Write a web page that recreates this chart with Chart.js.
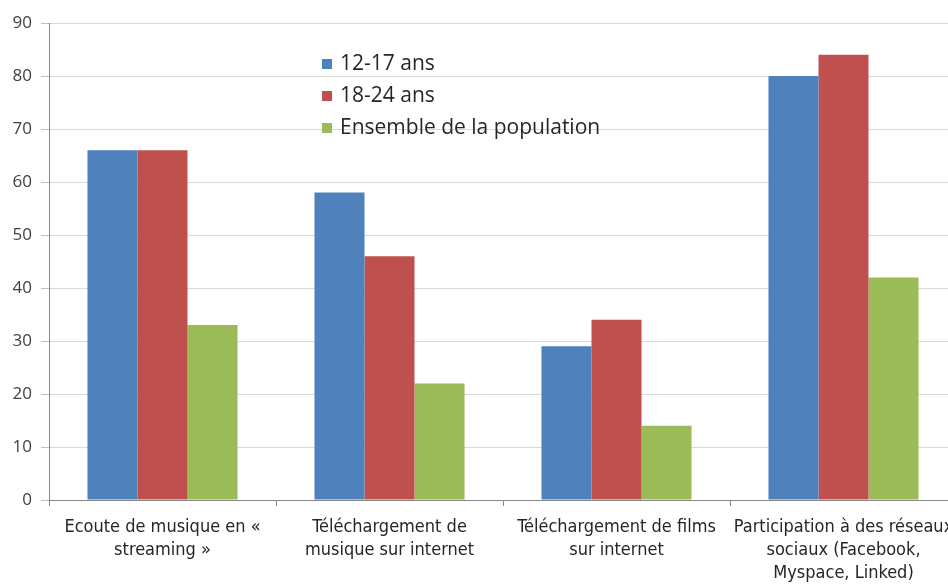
<!DOCTYPE html>
<html>
<head>
<meta charset="utf-8">
<script src="https://cdn.jsdelivr.net/npm/chart.js@4.4.0/dist/chart.umd.min.js"></script>
<style>
  html, body { margin: 0; padding: 0; background: #fff; overflow: hidden; }
  #wrap { position: relative; width: 975px; height: 584px; }
</style>
</head>
<body>
<div id="wrap"><canvas id="usages" width="975" height="584"></canvas></div>
<script>
// Pratiques numériques par tranche d'âge (%)
const categories = [
  ["Ecoute de musique en «", "streaming »"],
  ["Téléchargement de", "musique sur internet"],
  ["Téléchargement de films", "sur internet"],
  ["Participation à des réseaux", "sociaux (Facebook,", "Myspace, Linked)"]
];
const seriesNames = ["12-17 ans", "18-24 ans", "Ensemble de la population"];
const ados = [66, 58, 29, 80];
const jeunesAdultes = [66, 46, 34, 84];
const ensemble = [33, 22, 14, 42];
const yTicks = [0, 10, 20, 30, 40, 50, 60, 70, 80, 90];

const colors = ["#4F81BD", "#C0504D", "#9BBB59"];
const narrow = "'Liberation Sans Narrow', 'DejaVu Sans Condensed', sans-serif";

// legende dessinee dans la zone du graphique
const insideLegend = {
  id: "insideLegend",
  afterDraw(chart) {
    const ctx = chart.ctx;
    ctx.save();
    ctx.font = "21px 'Open Sans', sans-serif";
    ctx.textBaseline = "middle";
    chart.data.datasets.forEach((ds, i) => {
      const y = 64 + i * 32;
      ctx.fillStyle = ds.backgroundColor;
      ctx.fillRect(322, y - 5, 10, 10);
      ctx.fillStyle = "#262626";
      ctx.fillText(ds.label, 340, y);
    });
    ctx.restore();
  }
};

const ctx = document.getElementById("usages").getContext("2d");
new Chart(ctx, {
  type: "bar",
  data: {
    labels: categories,
    datasets: [ados, jeunesAdultes, ensemble].map((d, i) => ({
      label: seriesNames[i],
      data: d,
      backgroundColor: colors[i],
      categoryPercentage: 0.661,
      barPercentage: 1.0
    }))
  },
  options: {
    responsive: false,
    animation: false,
    devicePixelRatio: 1,
    layout: { padding: { top: 23, right: 18, left: 0, bottom: 0 } },
    plugins: { legend: { display: false }, tooltip: { enabled: false } },
    scales: {
      x: {
        grid: { offset: true, drawOnChartArea: false, color: "#868686", tickLength: 6 },
        border: { color: "#868686" },
        ticks: {
          autoSkip: false, maxRotation: 0, minRotation: 0, padding: 10,
          color: "#262626",
          font: { family: narrow, size: 18, lineHeight: 1.28 }
        },
        afterFit(scale) { scale.height = 84; }
      },
      y: {
        min: 0, max: 90,
        afterBuildTicks(scale) { scale.ticks = yTicks.map(v => ({ value: v })); },
        grid: { color: "#d9d9d9", tickLength: 8, tickColor: "#bfbfbf" },
        border: { color: "#868686" },
        ticks: {
          autoSkip: false, padding: 9, color: "#404040",
          font: { family: "'Open Sans', sans-serif", size: 17 }
        },
        afterFit(scale) { scale.width = 49; }
      }
    }
  },
  plugins: [insideLegend]
});
</script>
</body>
</html>
